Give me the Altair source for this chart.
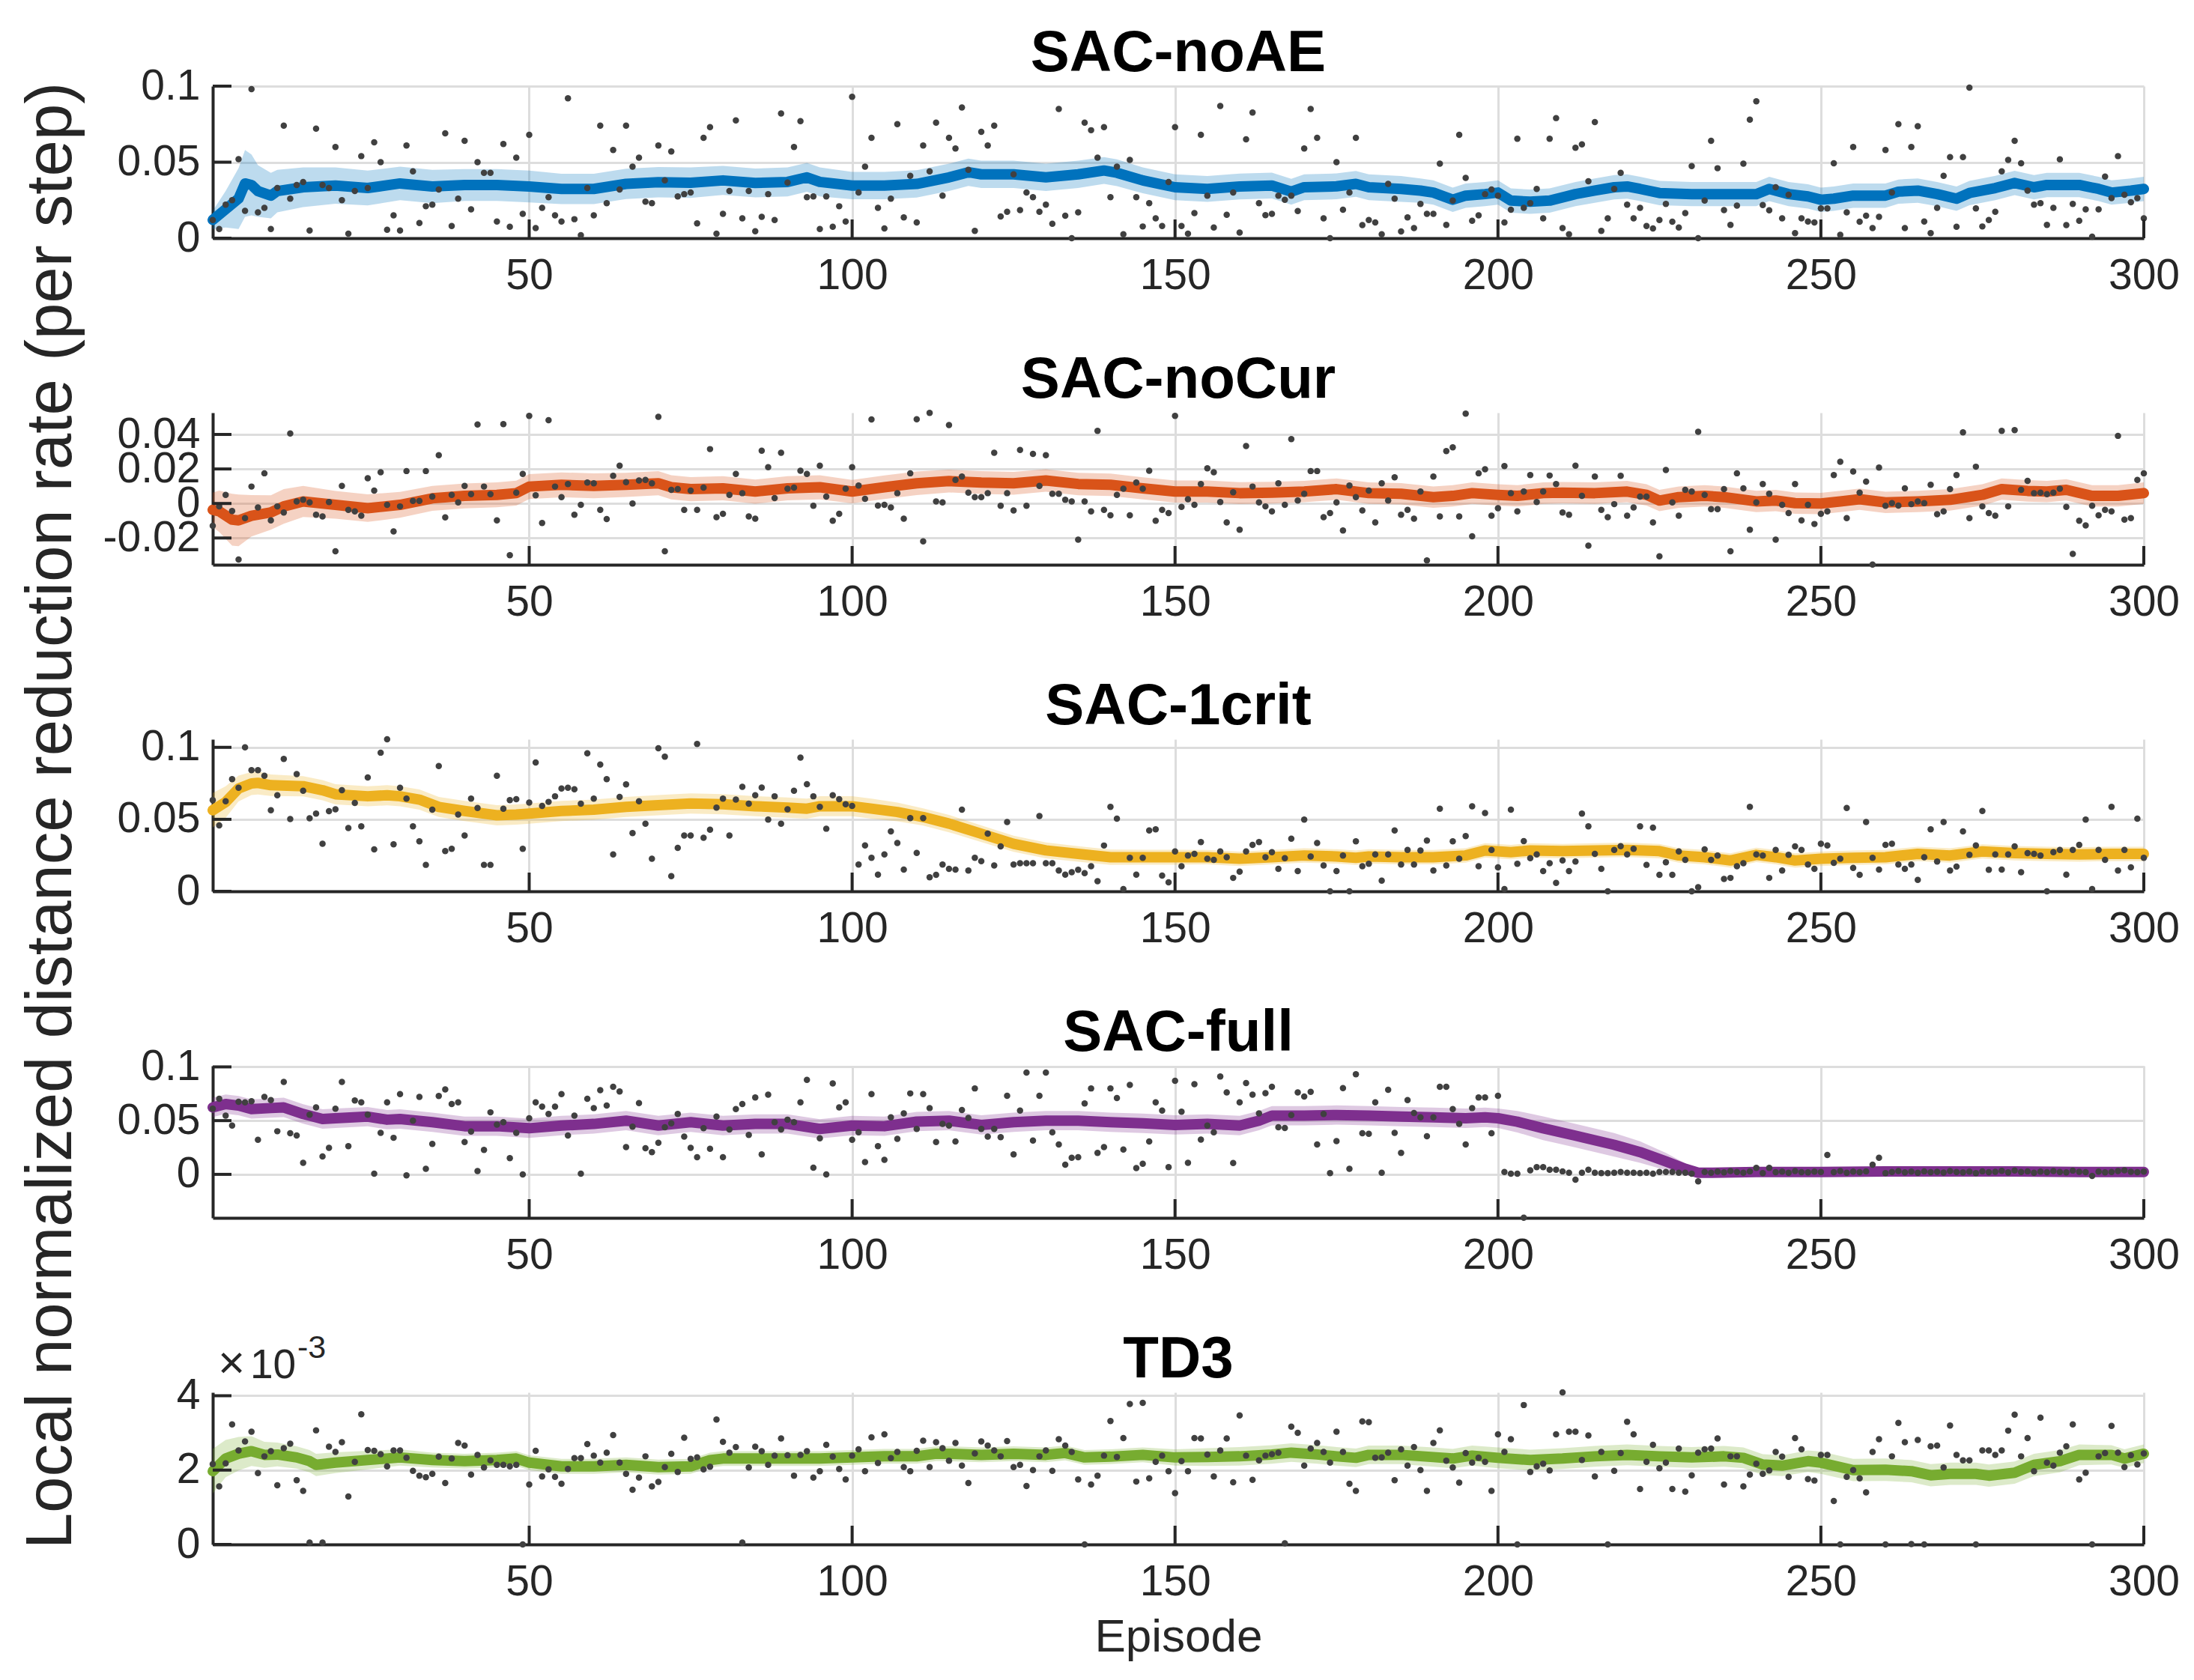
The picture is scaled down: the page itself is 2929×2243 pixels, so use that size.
import pandas as pd
import altair as alt

FONT = "Liberation Sans"
AX = "#262626"
GRID = "#DDDDDD"
DOT = "#404040"

# ---------------- data ----------------
# per-episode value (scatter), episodes 1..300
noae_pts = [
    0.012, 0.006, 0.022, 0.025, 0.052, 0.018, 0.098, 0.017, 0.020, 0.006,
    0.033, 0.074, 0.026, 0.035, 0.037, 0.005, 0.072, 0.035, 0.033, 0.060,
    0.025, 0.003, 0.031, 0.054, 0.033, 0.063, 0.050, 0.0055, 0.015, 0.005,
    0.061, 0.044, 0.010, 0.021, 0.022, 0.032, 0.069, 0.008, 0.026, 0.064,
    0.019, 0.050, 0.043, 0.043, 0.011, 0.062, 0.0075, 0.053, 0.016, 0.068,
    0.0066, 0.020, 0.027, 0.015, 0.011, 0.092, 0.0125, 0.002, 0.033, 0.015,
    0.074, 0.023, 0.058, 0.032, 0.074, 0.047, 0.053, 0.024, 0.023, 0.061,
    0.038, 0.057, 0.0275, 0.029, 0.030, 0.0097, 0.066, 0.073, 0.003, 0.016,
    0.031, 0.0775, 0.013, 0.031, 0.0046, 0.014, 0.029, 0.012, 0.082, 0.0366,
    0.060, 0.077, 0.027, 0.0275, 0.006, 0.0275, 0.0075, 0.021, 0.011, 0.093,
    0.030, 0.047, 0.066, 0.020, 0.0064, 0.026, 0.075, 0.0137, 0.041, 0.0103,
    0.061, 0.044, 0.076, 0.028, 0.066, 0.059, 0.086, 0.045, 0.0048, 0.070,
    0.061, 0.074, 0.0143, 0.0174, 0.042, 0.0185, 0.030, 0.027, 0.0174, 0.022,
    0.0095, 0.085, 0.0148, 0.000, 0.017, 0.076, 0.071, 0.053, 0.073, 0.027,
    0.047, 0.0026, 0.0515, 0.027, 0.0077, 0.023, 0.013, 0.008, 0.037, 0.073,
    0.008, 0.003, 0.0165, 0.068, 0.028, 0.007, 0.087, 0.0154, 0.030, 0.0037,
    0.065, 0.0826, 0.023, 0.0152, 0.016, 0.028, 0.0253, 0.028, 0.0178, 0.059,
    0.085, 0.066, 0.013, 0.000, 0.050, 0.0187, 0.030, 0.066, 0.0086, 0.012,
    0.0103, 0.0026, 0.0357, 0.026, 0.0044, 0.0137, 0.0066, 0.0225, 0.016, 0.016,
    0.049, 0.0088, 0.0247, 0.068, 0.0396, 0.0115, 0.015, 0.029, 0.032, 0.028,
    0.0103, 0.0187, 0.0654, 0.020, 0.023, 0.0324, 0.013, 0.0654, 0.079, 0.0066,
    0.0026, 0.0595, 0.0617, 0.0374, 0.0764, 0.0048, 0.013, 0.0324, 0.043, 0.022,
    0.013, 0.020, 0.008, 0.0064, 0.012, 0.0225, 0.0108, 0.007, 0.0165, 0.0474,
    0.000, 0.0247, 0.064, 0.046, 0.0185, 0.0088, 0.0214, 0.049, 0.078, 0.090,
    0.0218, 0.0183, 0.0335, 0.013, 0.0286, 0.0033, 0.013, 0.011, 0.0103, 0.0196,
    0.0196, 0.0493, 0.0022, 0.017, 0.060, 0.0108, 0.0148, 0.0066, 0.014, 0.058,
    0.030, 0.075, 0.0066, 0.060, 0.0736, 0.011, 0.0033, 0.020, 0.041, 0.0533,
    0.0075, 0.0533, 0.099, 0.0196, 0.0077, 0.012, 0.0174, 0.044, 0.0515, 0.064,
    0.0493, 0.0313, 0.022, 0.023, 0.0088, 0.020, 0.0518, 0.0086, 0.0225, 0.0115,
    0.019, 0.001, 0.019, 0.0405, 0.0264, 0.054, 0.0286, 0.0236, 0.0264, 0.013,
]
nocur_pts = [
    -0.0129, -0.0017, 0.005, -0.0044, -0.0325, -0.0085, 0.0098, -0.0023, 0.0175, -0.0098,
    -0.0017, -0.0052, 0.0406, 0.0012, 0.0021, 0.0006, -0.0065, -0.0075, 0.0008, -0.0277,
    0.0102, -0.0037, -0.0046, -0.0071, 0.0146, 0.0075, 0.0181, -0.0008, -0.0162, -0.0017,
    0.0188, 0.0015, 0.0015, 0.0188, 0.004, 0.028, -0.0081, 0.005, 0.0006, 0.0102,
    0.0054, 0.0458, 0.0098, 0.0054, -0.0098, 0.046, -0.030, 0.0063, 0.0171, 0.0508,
    0.0048, -0.0113, 0.0483, 0.0098, 0.0037, 0.0113, -0.0065, -0.0008, 0.0121, 0.0117,
    -0.0037, -0.009, 0.016, 0.0219, 0.0123, 0.000, 0.0133, 0.0137, 0.0117, 0.0502,
    -0.0277, 0.0079, 0.0083, -0.0037, 0.0075, -0.0037, 0.0092, 0.0315, -0.0079, -0.006,
    0.005, 0.0171, 0.006, -0.0075, -0.0088, 0.0306, 0.021, 0.0031, 0.0294, 0.0085,
    0.0092, 0.019, 0.0171, -0.0013, 0.0219, 0.004, -0.010, -0.006, 0.0085, 0.021,
    0.0104, 0.0027, 0.0487, -0.0012, -0.0008, -0.0023, 0.006, -0.0088, 0.0175, 0.0488,
    -0.0219, 0.0525, 0.0012, 0.0006, 0.0454, 0.0137, 0.0156, 0.0063, 0.0037, 0.0037,
    0.006, 0.0294, -0.0013, 0.006, -0.004, 0.031, -0.0013, 0.0287, 0.0102, 0.028,
    0.0056, 0.0056, 0.0021, 0.0012, -0.021, 0.0012, -0.0046, 0.0421, -0.0037, -0.0069,
    0.005, 0.0085, -0.0069, 0.0121, 0.0085, 0.019, -0.010, -0.0037, -0.0056, 0.0508,
    -0.002, 0.0025, -0.0008, 0.0113, 0.0204, 0.0181, 0.0008, -0.011, 0.0065, -0.0152,
    0.0333, 0.0098, 0.0006, -0.0017, -0.0046, 0.0117, -0.0008, 0.0373, 0.0017, 0.0056,
    0.0188, 0.0188, -0.0079, -0.0056, 0.0006, -0.0156, 0.0104, 0.0037, -0.004, 0.0075,
    -0.011, 0.0117, 0.0017, 0.0152, -0.0065, -0.0037, -0.0088, 0.0069, -0.033, 0.0156,
    -0.0075, 0.0304, 0.0325, -0.0075, 0.0521, -0.019, 0.0175, 0.0198, -0.0071, -0.0027,
    0.0217, 0.006, -0.0046, 0.0069, 0.0165, 0.0008, 0.0069, 0.0162, 0.0113, -0.0052,
    -0.0065, 0.0219, 0.0044, -0.0244, 0.0156, -0.0037, -0.0079, -0.0004, 0.016, -0.0071,
    -0.0023, 0.004, 0.004, -0.011, -0.0306, 0.0194, 0.0006, -0.0071, 0.0079, 0.0069,
    0.0415, 0.005, -0.0033, -0.0033, 0.0083, -0.0277, 0.0175, 0.0088, -0.0152, 0.0006,
    0.0113, 0.0056, -0.021, -0.0008, -0.0056, 0.0113, -0.0098, -0.0008, -0.0119, -0.006,
    -0.0046, 0.0165, 0.0242, -0.0085, 0.0185, 0.0063, 0.0127, -0.0354, 0.0208, -0.0013,
    0.0002, -0.0012, 0.0088, -0.0004, 0.0012, 0.0002, 0.0108, -0.0062, -0.0046, 0.0083,
    0.0165, 0.0412, -0.0085, 0.0213, -0.0017, -0.0056, -0.0071, 0.0421, -0.0017, 0.0425,
    0.0079, 0.0131, 0.006, 0.0063, 0.0054, 0.0063, 0.0085, -0.002, -0.0292, -0.010,
    -0.0127, -0.0013, -0.0069, -0.0037, -0.0046, 0.0392, -0.0094, -0.0085, 0.0137, 0.0175,
]
crit_pts = [
    0.0633, 0.0458, 0.0626, 0.0779, 0.0719, 0.100, 0.0842, 0.0842, 0.0802, 0.0563,
    0.0667, 0.0919, 0.0502, 0.0814, 0.0698, 0.0507, 0.054, 0.033, 0.0556, 0.057,
    0.0702, 0.044, 0.0614, 0.0451, 0.0791, 0.0291, 0.0963, 0.1056, 0.0326, 0.0719,
    0.0644, 0.0451, 0.0347, 0.0184, 0.0567, 0.087, 0.0279, 0.0295, 0.0533, 0.0388,
    0.0644, 0.0579, 0.0184, 0.0184, 0.0802, 0.0574, 0.0633, 0.064, 0.0295, 0.0616,
    0.0895, 0.0593, 0.0621, 0.066, 0.0714, 0.0719, 0.0709, 0.0609, 0.0958, 0.0644,
    0.0881, 0.0779, 0.0256, 0.0656, 0.0742, 0.0405, 0.0626, 0.047, 0.0226, 0.0993,
    0.0935, 0.0105, 0.0302, 0.0388, 0.0388, 0.1023, 0.0372, 0.0428, 0.0581, 0.0644,
    0.0388, 0.0637, 0.0726, 0.0609, 0.0667, 0.0721, 0.0498, 0.066, 0.047, 0.057,
    0.0698, 0.0928, 0.0744, 0.066, 0.0586, 0.0435, 0.0667, 0.064, 0.0605, 0.0593,
    0.0186, 0.0319, 0.0233, 0.0116, 0.0256, 0.0416, 0.0335, 0.0151, 0.0509, 0.0267,
    0.0509, 0.0098, 0.0114, 0.0186, 0.0156, 0.0151, 0.0567, 0.0144, 0.0233, 0.0209,
    0.040, 0.0179, 0.0312, 0.0481, 0.0186, 0.0195, 0.0195, 0.0195, 0.0523, 0.0195,
    0.0195, 0.0144, 0.0116, 0.0133, 0.0149, 0.0126, 0.0174, 0.007, 0.0318, 0.0586,
    0.0505, 0.0016, 0.0233, 0.0116, 0.0233, 0.0423, 0.043, 0.0109, 0.0063, 0.0277,
    0.0174, 0.0249, 0.026, 0.0342, 0.0226, 0.0219, 0.0277, 0.0237, 0.0093, 0.0137,
    0.0277, 0.0323, 0.0342, 0.0237, 0.0272, 0.0156, 0.023, 0.0365, 0.014, 0.0498,
    0.0242, 0.0335, 0.0179, 0.000, 0.014, 0.0249, 0.000, 0.0347, 0.0174, 0.0191,
    0.0256, 0.0074, 0.0256, 0.0423, 0.0186, 0.0288, 0.0186, 0.0284, 0.0353, 0.0144,
    0.0574, 0.0179, 0.0347, 0.0226, 0.0384, 0.0591, 0.0174, 0.0544, 0.0288, 0.0167,
    0.0016, 0.0567, 0.0191, 0.0349, 0.023, 0.0256, 0.014, 0.0195, 0.0058, 0.0214,
    0.014, 0.0207, 0.054, 0.0451, 0.026, 0.0156, 0.000, 0.0288, 0.0314, 0.0256,
    0.0295, 0.0451, 0.0184, 0.0442, 0.0114, 0.0202, 0.0114, 0.0277, 0.0219, 0.000,
    0.0028, 0.0291, 0.0219, 0.0249, 0.0086, 0.0093, 0.0174, 0.0195, 0.0586, 0.0256,
    0.0249, 0.0093, 0.0288, 0.0144, 0.0253, 0.0312, 0.0288, 0.0186, 0.0156, 0.033,
    0.0319, 0.0198, 0.0226, 0.0579, 0.0163, 0.0114, 0.0481, 0.0233, 0.0151, 0.0323,
    0.033, 0.0186, 0.0156, 0.0186, 0.0079, 0.0237, 0.043, 0.0207, 0.0481, 0.0144,
    0.0172, 0.0416, 0.0253, 0.0319, 0.0558, 0.0149, 0.0256, 0.0151, 0.0256, 0.0312,
    0.0133, 0.0265, 0.026, 0.0249, 0.000, 0.0272, 0.0288, 0.0116, 0.0288, 0.0323,
    0.0498, 0.0016, 0.0288, 0.0219, 0.0586, 0.0144, 0.0288, 0.0167, 0.0505, 0.0233,
]
full_pts = [
    0.0611, 0.0704, 0.0546, 0.0454, 0.0676, 0.067, 0.068, 0.0321, 0.072, 0.0691,
    0.0401, 0.086, 0.0383, 0.0361, 0.0108, 0.0556, 0.0623, 0.0167, 0.0247, 0.0611,
    0.086, 0.0262, 0.0688, 0.067, 0.0556, 0.0006, 0.0386, 0.067, 0.034, 0.0747,
    -0.0009, 0.050, 0.072, 0.0052, 0.0284, 0.073, 0.0791, 0.0654, 0.067, 0.030,
    0.0398, 0.0031, 0.0228, 0.0577, 0.0463, 0.0485, 0.0151, 0.0386, 0.000, 0.0522,
    0.067, 0.063, 0.0562, 0.063, 0.0747, 0.0361, 0.0546, 0.0006, 0.0704, 0.0617,
    0.0784, 0.064, 0.0815, 0.0772, 0.0253, 0.0444, 0.0664, 0.0244, 0.0207, 0.0293,
    0.0438, 0.0475, 0.0562, 0.0352, 0.0247, 0.016, 0.0429, 0.0238, 0.0537, 0.016,
    0.0417, 0.0608, 0.0654, 0.0367, 0.0716, 0.0185, 0.0741, 0.0485, 0.0417, 0.0509,
    0.0485, 0.067, 0.088, 0.0062, 0.0336, 0.000, 0.0846, 0.0623, 0.067, 0.0321,
    0.0392, 0.0114, 0.0747, 0.0262, 0.0136, 0.0531, 0.033, 0.0568, 0.0753, 0.0423,
    0.0747, 0.0617, 0.030, 0.0469, 0.0454, 0.0306, 0.0599, 0.0525, 0.080, 0.0423,
    0.0352, 0.0423, 0.0346, 0.0731, 0.0185, 0.0593, 0.0948, 0.0315, 0.0731, 0.0948,
    0.0392, 0.0278, 0.009, 0.0154, 0.016, 0.066, 0.080, 0.020, 0.0253, 0.080,
    0.071, 0.0231, 0.0833, 0.0059, 0.0099, 0.0306, 0.067, 0.0593, 0.0068, 0.087,
    0.0583, 0.0108, 0.084, 0.0324, 0.0454, 0.0392, 0.091, 0.0762, 0.0105, 0.067,
    0.0849, 0.0741, 0.0568, 0.0756, 0.0815, 0.0438, 0.0432, 0.0552, 0.0762, 0.0725,
    0.0768, 0.0278, 0.0562, 0.0012, 0.0309, 0.0802, 0.0052, 0.0932, 0.0383, 0.0377,
    0.067, 0.0015, 0.0787, 0.0386, 0.020, 0.0691, 0.0571, 0.0531, 0.0355, 0.0531,
    0.0815, 0.0815, 0.0608, 0.0469, 0.0278, 0.0617, 0.0716, 0.0716, 0.0383, 0.0731,
    0.0022, 0.0006, 0.0006, -0.0404, 0.0037, 0.0068, 0.0068, 0.0043, 0.0043, 0.0028,
    0.0015, -0.0049, 0.0015, 0.0043, 0.0015, 0.0012, 0.0012, 0.0015, 0.0022, 0.0015,
    0.0015, 0.0012, 0.0015, 0.0006, 0.0022, 0.0022, 0.0022, 0.0015, 0.0015, 0.0006,
    -0.0065, 0.0022, 0.0015, 0.0025, 0.0018, 0.003, 0.0022, 0.0015, 0.0028, 0.006,
    0.0012, 0.006, 0.002, 0.0025, 0.0015, 0.003, 0.002, 0.0018, 0.0026, 0.0022,
    0.018, 0.002, 0.003, 0.0015, 0.0025, 0.002, 0.0028, 0.009, 0.0154, 0.0012,
    0.0022, 0.003, 0.0018, 0.0025, 0.0015, 0.0028, 0.002, 0.0024, 0.0016, 0.003,
    0.0022, 0.0018, 0.0026, 0.0012, 0.0028, 0.002, 0.0024, 0.0032, 0.0018, 0.0036,
    0.0022, 0.0028, 0.0015, 0.0025, 0.002, 0.003, 0.0022, 0.0018, 0.0035, 0.0024,
    0.002, -0.0015, 0.0026, 0.0018, 0.0022, 0.003, 0.0038, 0.0024, 0.002, 0.0025,
]
# TD3 values are in units of 1e-3 (axis shows x10^-3)
td3_pts = [
    2.16, 1.56, 2.18, 3.23, 2.53, 2.77, 3.03, 1.92, 2.37, 2.51,
    1.59, 2.59, 2.71, 1.73, 1.44, 0.05, 3.07, 0.05, 2.63, 2.49,
    2.75, 1.29, 2.22, 3.5, 2.54, 2.52, 2.43, 2.1, 2.53, 2.53,
    2.33, 1.98, 1.85, 1.81, 1.9, 2.36, 1.65, 2.31, 2.73, 2.66,
    1.88, 2.41, 2.07, 2.26, 2.14, 2.14, 2.1, 2.14, 0.0, 1.61,
    2.52, 1.83, 2.02, 1.82, 1.63, 2.03, 2.32, 2.32, 2.7, 2.39,
    2.2, 2.47, 2.94, 2.2, 1.9, 1.47, 1.8, 2.37, 1.56, 1.68,
    2.08, 2.44, 1.95, 2.87, 2.3, 2.34, 2.02, 2.09, 3.36, 2.76,
    2.47, 2.62, 0.05, 2.07, 2.63, 2.51, 2.14, 2.39, 2.85, 2.4,
    1.85, 2.41, 2.51, 1.8, 1.97, 2.68, 2.36, 2.03, 1.75, 2.39,
    2.56, 1.97, 2.88, 2.19, 2.96, 2.32, 2.49, 2.08, 1.97, 2.52,
    2.79, 2.08, 2.75, 2.59, 2.25, 2.73, 2.12, 1.65, 2.45, 2.77,
    2.66, 2.53, 2.37, 2.78, 2.08, 2.14, 1.57, 2.0, 2.37, 2.53,
    1.98, 2.83, 2.66, 2.49, 1.75, 0.0, 1.61, 1.85, 2.39, 3.32,
    2.35, 2.86, 3.78, 1.69, 3.81, 1.78, 2.22, 2.39, 1.97, 1.38,
    2.24, 1.97, 2.86, 2.85, 2.42, 1.83, 2.53, 2.85, 1.67, 3.47,
    2.39, 1.74, 2.26, 2.39, 2.43, 2.47, 0.03, 3.17, 3.0, 2.12,
    2.58, 2.73, 2.49, 2.2, 3.03, 2.49, 1.63, 1.44, 3.31, 3.29,
    2.33, 2.34, 2.47, 1.73, 2.56, 2.12, 2.62, 2.0, 1.44, 2.73,
    3.07, 2.25, 2.07, 1.66, 2.46, 2.2, 2.33, 2.22, 1.44, 2.96,
    2.49, 2.83, 0.0, 3.75, 1.95, 2.1, 2.17, 1.99, 2.96, 4.09,
    3.03, 3.03, 2.27, 2.93, 1.83, 2.49, 0.0, 1.98, 2.46, 3.3,
    2.96, 1.49, 2.22, 2.68, 2.05, 2.2, 1.49, 2.58, 1.42, 1.86,
    2.47, 2.56, 2.58, 2.85, 1.61, 2.37, 2.37, 1.56, 1.88, 2.17,
    1.9, 1.99, 2.49, 2.36, 1.82, 2.86, 2.56, 1.76, 1.72, 2.41,
    2.41, 1.17, 0.0, 1.82, 2.0, 1.78, 1.4, 2.49, 2.83, 0.0,
    2.37, 3.27, 2.75, 0.01, 2.81, 0.0, 2.64, 2.66, 2.07, 3.2,
    2.41, 2.26, 2.26, 0.0, 2.53, 2.53, 2.41, 2.53, 3.06, 3.49,
    2.37, 2.86, 1.97, 3.41, 2.2, 2.12, 2.47, 2.64, 3.23, 1.75,
    1.93, 0.0, 2.37, 2.46, 3.19, 2.47, 2.08, 2.4, 2.15, 2.45,
]

# running mean (sampled episodes), and half-width of the shaded band
noae_ma_ep = [1, 3, 5, 6, 7, 8, 10, 11, 15, 20, 25, 30, 35, 40, 45, 50, 55, 60, 65, 70,
              75, 80, 85, 90, 93, 95, 100, 105, 110, 115, 118, 120, 125, 130, 135, 139, 141, 145, 150, 155,
              160, 165, 168, 170, 175, 178, 180, 185, 188, 190, 193, 195, 198, 200, 202, 205, 208, 212, 215, 218,
              220, 222, 225, 230, 235, 240, 242, 245, 248, 250, 252, 255, 260, 262, 265, 268, 271, 273, 277, 280,
              283, 285, 290, 293, 295, 298, 300]
noae_ma = [0.012, 0.019, 0.026, 0.036, 0.035, 0.031, 0.028, 0.031, 0.0335, 0.0346,
           0.033, 0.036, 0.034, 0.035, 0.035, 0.034, 0.0324, 0.0324, 0.0357, 0.0368,
           0.0365, 0.038, 0.0363, 0.037, 0.040, 0.037, 0.0346, 0.0346, 0.0357, 0.040,
           0.0434, 0.042, 0.042, 0.040, 0.042, 0.0445, 0.043, 0.038, 0.0335, 0.0324,
           0.034, 0.0346, 0.0306, 0.0335, 0.0341, 0.0357, 0.0335, 0.0324, 0.0313, 0.030,
           0.0253, 0.028, 0.029, 0.030, 0.0247, 0.024, 0.0247, 0.029, 0.0313, 0.0335,
           0.034, 0.0324, 0.0297, 0.029, 0.029, 0.029, 0.0324, 0.029, 0.0275, 0.0253,
           0.026, 0.028, 0.028, 0.0306, 0.0313, 0.029, 0.026, 0.0297, 0.033, 0.0363,
           0.0335, 0.035, 0.035, 0.0324, 0.030, 0.0313, 0.0324]
noae_hw = [0.006, 0.012, 0.02, 0.022, 0.02, 0.017, 0.015, 0.014, 0.013, 0.012,
           0.0115, 0.011, 0.011, 0.0105, 0.0105, 0.0105, 0.01, 0.01, 0.01, 0.01,
           0.01, 0.0095, 0.0095, 0.0095, 0.0095, 0.0095, 0.009, 0.009, 0.009, 0.009,
           0.009, 0.009, 0.009, 0.009, 0.009, 0.0088, 0.0088, 0.0085, 0.0085, 0.0085,
           0.0085, 0.0085, 0.0085, 0.0085, 0.0085, 0.0085, 0.0085, 0.0085, 0.008, 0.008,
           0.008, 0.008, 0.008, 0.008, 0.008, 0.008, 0.008, 0.008, 0.008, 0.008,
           0.008, 0.008, 0.008, 0.008, 0.008, 0.008, 0.008, 0.008, 0.008, 0.008,
           0.008, 0.008, 0.008, 0.008, 0.008, 0.008, 0.008, 0.008, 0.008, 0.008,
           0.008, 0.008, 0.008, 0.008, 0.008, 0.008, 0.008]

nocur_ma_ep = [1, 2, 4, 5, 7, 10, 12, 15, 20, 25, 30, 35, 40, 45, 48, 50, 55, 60, 65, 70,
               72, 75, 80, 85, 90, 95, 100, 105, 110, 115, 120, 125, 130, 135, 140, 145, 150, 155, 160, 165,
               170, 175, 180, 185, 190, 193, 196, 200, 203, 207, 210, 215, 220, 223, 225, 228, 232, 235, 240, 243,
               246, 250, 253, 256, 260, 265, 270, 275, 278, 282, 285, 288, 292, 296, 300]
nocur_ma = [-0.0037, -0.0045, -0.0094, -0.0098, -0.0071, -0.0052, -0.0017, 0.0012, -0.0008, -0.0027,
            -0.0008, 0.003, 0.0044, 0.005, 0.006, 0.0098, 0.0108, 0.0102, 0.0108, 0.0117,
            0.0094, 0.0083, 0.0088, 0.0069, 0.0088, 0.0094, 0.0069, 0.0094, 0.0117, 0.013,
            0.0121, 0.0117, 0.0133, 0.0113, 0.0108, 0.0088, 0.0069, 0.0069, 0.006, 0.0063,
            0.0069, 0.0083, 0.006, 0.0056, 0.0037, 0.0044, 0.006, 0.005, 0.0044, 0.006,
            0.0063, 0.006, 0.0069, 0.005, 0.0017, 0.0037, 0.0044, 0.0037, 0.0012, 0.0017,
            0.0002, 0.0, 0.0012, 0.0025, 0.0006, 0.0012, 0.0021, 0.005, 0.0083, 0.0073,
            0.0069, 0.0079, 0.0044, 0.0044, 0.006]
nocur_hw = [0.01, 0.012, 0.015, 0.015, 0.012, 0.01, 0.01, 0.009, 0.008, 0.008,
            0.0075, 0.0072, 0.0072, 0.0072, 0.0072, 0.0072, 0.0072, 0.0072, 0.007, 0.007,
            0.007, 0.007, 0.007, 0.007, 0.007, 0.007, 0.0068, 0.0068, 0.0068, 0.0066,
            0.0066, 0.0066, 0.0065, 0.0065, 0.0065, 0.0064, 0.0064, 0.0064, 0.0063, 0.0063,
            0.0062, 0.0062, 0.0062, 0.0062, 0.0062, 0.0062, 0.0062, 0.0062, 0.0062, 0.0062,
            0.0062, 0.0062, 0.0062, 0.0062, 0.0062, 0.0062, 0.0062, 0.0062, 0.0062, 0.0062,
            0.0062, 0.0062, 0.0062, 0.0062, 0.0062, 0.0062, 0.0062, 0.0062, 0.0062, 0.0062,
            0.0062, 0.0062, 0.0062, 0.0062, 0.0062]

crit_ma_ep = [1, 3, 5, 7, 8, 10, 15, 18, 20, 25, 28, 30, 33, 36, 40, 45, 48, 50, 55, 60,
              65, 70, 75, 80, 85, 90, 93, 95, 100, 103, 107, 111, 115, 120, 125, 130, 135, 140, 145, 150,
              155, 160, 165, 170, 175, 178, 180, 185, 190, 195, 198, 202, 205, 210, 215, 220, 225, 228, 232, 236,
              240, 243, 246, 250, 255, 260, 265, 270, 275, 280, 285, 290, 295, 300]
crit_ma = [0.0563, 0.062, 0.0714, 0.0749, 0.0753, 0.0737, 0.073, 0.0702, 0.0674, 0.066,
           0.0667, 0.066, 0.0637, 0.0586, 0.0558, 0.0528, 0.0533, 0.054, 0.0558, 0.0567,
           0.0586, 0.0598, 0.061, 0.0605, 0.0591, 0.0581, 0.0574, 0.0591, 0.0591, 0.0574,
           0.0551, 0.0516, 0.047, 0.040, 0.033, 0.0284, 0.026, 0.0237, 0.0237, 0.0237,
           0.0237, 0.0226, 0.0237, 0.0249, 0.0242, 0.0233, 0.0242, 0.0237, 0.0237, 0.0249,
           0.0284, 0.0272, 0.0284, 0.0279, 0.0284, 0.0288, 0.0279, 0.0249, 0.0237, 0.0214,
           0.0253, 0.0237, 0.0214, 0.0226, 0.0233, 0.0237, 0.026, 0.0249, 0.0277, 0.0265,
           0.026, 0.0256, 0.026, 0.026]
crit_hw = [0.012, 0.011, 0.009, 0.008, 0.008, 0.0075, 0.007, 0.007, 0.007, 0.007,
           0.007, 0.007, 0.007, 0.007, 0.007, 0.007, 0.007, 0.007, 0.007, 0.007,
           0.007, 0.007, 0.007, 0.007, 0.007, 0.007, 0.007, 0.007, 0.007, 0.007,
           0.0065, 0.006, 0.006, 0.0058, 0.0056, 0.0055, 0.0054, 0.0053, 0.0052, 0.0052,
           0.005, 0.005, 0.005, 0.005, 0.005, 0.005, 0.005, 0.005, 0.005, 0.005,
           0.005, 0.005, 0.005, 0.005, 0.005, 0.005, 0.005, 0.005, 0.005, 0.005,
           0.005, 0.005, 0.005, 0.005, 0.005, 0.005, 0.005, 0.005, 0.005, 0.005,
           0.005, 0.005, 0.005, 0.005]

full_ma_ep = [1, 3, 5, 7, 10, 12, 15, 18, 20, 25, 28, 30, 35, 40, 45, 50, 55, 60, 65, 70,
              75, 80, 85, 90, 95, 100, 105, 110, 115, 120, 125, 130, 135, 140, 145, 150, 155, 160, 163, 165,
              170, 175, 180, 185, 190, 195, 198, 200, 203, 207, 212, 218, 222, 226, 229, 231, 233, 240, 250, 260,
              270, 280, 290, 300]
full_ma = [0.0623, 0.0654, 0.064, 0.0608, 0.0617, 0.0623, 0.0562, 0.0515, 0.0522, 0.0537,
           0.0509, 0.0515, 0.0485, 0.0448, 0.0448, 0.0429, 0.0454, 0.0469, 0.050, 0.0454,
           0.0485, 0.0454, 0.0469, 0.0469, 0.0423, 0.0454, 0.0448, 0.0491, 0.050, 0.046,
           0.0485, 0.050, 0.050, 0.0485, 0.0475, 0.046, 0.0469, 0.0454, 0.050, 0.0546,
           0.0546, 0.0552, 0.0546, 0.0537, 0.0531, 0.0522, 0.0531, 0.0522, 0.049, 0.0429,
           0.036, 0.0275, 0.0207, 0.012, 0.0052, 0.0015, 0.0015, 0.0022, 0.0022, 0.0028,
           0.0028, 0.0028, 0.0022, 0.0022]
full_hw = [0.009, 0.009, 0.009, 0.009, 0.009, 0.009, 0.009, 0.009, 0.009, 0.009,
           0.009, 0.009, 0.009, 0.009, 0.009, 0.009, 0.009, 0.009, 0.009, 0.009,
           0.009, 0.009, 0.009, 0.009, 0.009, 0.009, 0.009, 0.009, 0.009, 0.009,
           0.009, 0.009, 0.009, 0.009, 0.009, 0.009, 0.009, 0.009, 0.009, 0.009,
           0.009, 0.009, 0.009, 0.009, 0.009, 0.009, 0.009, 0.009, 0.010, 0.011,
           0.011, 0.011, 0.010, 0.008, 0.005, 0.003, 0.0025, 0.0025, 0.0025, 0.0025,
           0.0025, 0.0025, 0.0025, 0.0025]

td3_ma_ep = [1, 2, 3, 5, 7, 9, 11, 14, 16, 17, 20, 25, 30, 35, 40, 45, 48, 50, 55, 60,
             65, 70, 75, 78, 80, 85, 90, 95, 100, 105, 110, 113, 115, 120, 125, 130, 133, 136, 140, 145,
             150, 155, 160, 165, 168, 172, 175, 178, 180, 185, 190, 193, 196, 200, 205, 210, 215, 220, 225, 230,
             235, 238, 241, 244, 248, 250, 255, 260, 264, 267, 270, 274, 276, 280, 283, 287, 290, 295, 297, 300]
td3_ma = [1.97, 2.14, 2.31, 2.44, 2.51, 2.41, 2.42, 2.34, 2.24, 2.14,
          2.2, 2.27, 2.34, 2.27, 2.24, 2.27, 2.31, 2.2, 2.1, 2.1,
          2.14, 2.08, 2.1, 2.27, 2.31, 2.31, 2.31, 2.31, 2.34, 2.37,
          2.37, 2.44, 2.44, 2.41, 2.44, 2.41, 2.46, 2.34, 2.36, 2.41,
          2.34, 2.35, 2.37, 2.42, 2.47, 2.42, 2.37, 2.33, 2.41, 2.41,
          2.35, 2.31, 2.39, 2.33, 2.27, 2.31, 2.37, 2.41, 2.37, 2.34,
          2.37, 2.33, 2.15, 2.12, 2.24, 2.2, 2.0, 2.01, 1.97, 1.86,
          1.9, 1.9, 1.85, 1.93, 2.14, 2.24, 2.41, 2.41, 2.31, 2.44]
td3_hw = [0.6, 0.55, 0.5, 0.45, 0.4, 0.35, 0.32, 0.3, 0.3, 0.3,
          0.28, 0.25, 0.22, 0.2, 0.2, 0.2, 0.2, 0.2, 0.2, 0.2,
          0.2, 0.2, 0.2, 0.2, 0.2, 0.2, 0.2, 0.2, 0.2, 0.2,
          0.2, 0.2, 0.2, 0.2, 0.2, 0.2, 0.2, 0.2, 0.2, 0.2,
          0.22, 0.24, 0.25, 0.25, 0.25, 0.25, 0.25, 0.25, 0.25, 0.25,
          0.26, 0.26, 0.27, 0.28, 0.28, 0.28, 0.28, 0.28, 0.28, 0.28,
          0.28, 0.28, 0.28, 0.28, 0.29, 0.3, 0.3, 0.3, 0.3, 0.3,
          0.3, 0.3, 0.3, 0.3, 0.3, 0.3, 0.28, 0.26, 0.25, 0.25]

# axes
x_ticks = [50, 100, 150, 200, 250, 300]
y_ticks_a = [0, 0.05, 0.1]
y_labels_a = ["0", "0.05", "0.1"]
y_ticks_b = [-0.02, 0, 0.02, 0.04]
y_labels_b = ["-0.02", "0", "0.02", "0.04"]
y_ticks_td3 = [0, 2, 4]
y_labels_td3 = ["0", "2", "4"]

YLABEL = "Local normalized distance reduction rate (per step)"

W, H = 2578, 203


def label_expr(vals, labs):
    parts = [f"datum.value == {v} ? '{l}'" for v, l in zip(vals, labs)]
    return " : ".join(parts) + " : ''"


def text_layer(txt, x, y, size, bold=False, align="left", color=AX):
    return alt.Chart(pd.DataFrame({"t": [txt]})).mark_text(
        align=align, baseline="alphabetic", fontSize=size, color=color, font=FONT,
        fontWeight="bold" if bold else "normal"
    ).encode(x=alt.value(x), y=alt.value(y), text="t:N")


def panel(title, pts, ma_ep, ma, hw, color, ydom, yt, yl, ytitle=False, xtitle=False, extra=None):
    pts_df = pd.DataFrame({"ep": list(range(1, 301)), "val": pts})
    ma_df = pd.DataFrame({"ep": ma_ep, "mean": ma, "hw": hw})
    ma_df["lo"] = ma_df["mean"] - ma_df["hw"]
    ma_df["hi"] = ma_df["mean"] + ma_df["hw"]

    yaxis = dict(values=yt, labelExpr=label_expr(yt, yl), grid=True, gridColor=GRID,
                 gridWidth=3, ticks=False, domainColor=AX, domainWidth=4,
                 labelFontSize=57, labelColor=AX, labelPadding=17, labelOverlap=False,
                 labelFont=FONT)
    if ytitle:
        yaxis.update(title=YLABEL, titleFontSize=87, titleFontWeight="normal", titleColor=AX,
                     titleFont=FONT, titleX=-216, titleY=H / 2, titleAngle=270,
                     titleAlign="center", titleBaseline="middle")
    else:
        yaxis.update(title=None)
    xaxis = dict(values=x_ticks, grid=True, gridColor=GRID, gridWidth=3, ticks=False,
                 domainColor=AX, domainWidth=4, labelFontSize=57, labelColor=AX,
                 labelPadding=22, labelFlush=False, labelOverlap=False, labelFont=FONT)
    if xtitle:
        xaxis.update(title="Episode", titleFontSize=62, titleFontWeight="normal",
                     titleColor=AX, titleFont=FONT, titlePadding=15)
    else:
        xaxis.update(title=None)

    xs = alt.Scale(domain=[1, 300], nice=False, zero=False)
    ys = alt.Scale(domain=ydom, nice=False, zero=False)

    def X(f):
        return alt.X(f"{f}:Q", scale=xs, axis=alt.Axis(**xaxis))

    def Y(f):
        return alt.Y(f"{f}:Q", scale=ys, axis=alt.Axis(**yaxis))

    band = alt.Chart(ma_df).mark_area(color=color, opacity=0.26).encode(
        x=X("ep"), y=Y("lo"), y2="hi")
    line = alt.Chart(ma_df).mark_line(color=color, strokeWidth=14, strokeJoin="round",
                                      strokeCap="round").encode(x=X("ep"), y=Y("mean"))
    dots = alt.Chart(pts_df).mark_circle(color=DOT, size=72, opacity=1).encode(
        x=X("ep"), y=Y("val"))
    ytk = alt.Chart(pd.DataFrame({"v": yt})).mark_rule(color=AX, strokeWidth=4).encode(
        y=Y("v"), x=alt.value(0), x2=alt.value(25))
    xtk = alt.Chart(pd.DataFrame({"v": x_ticks})).mark_rule(color=AX, strokeWidth=4).encode(
        x=X("v"), y=alt.value(H), y2=alt.value(H - 25))
    ttl = text_layer(title, W / 2, -20, 78, bold=True, align="center", color="#000000")
    layers = [band, line, dots, ytk, xtk, ttl]
    if extra:
        layers += extra
    return alt.layer(*layers).properties(width=W, height=H)


exp_text = [
    text_layer("×", 7, -19, 62),
    text_layer("10", 50, -19, 55),
    text_layer("-3", 113, -46, 43),
]

p1 = panel("SAC-noAE", noae_pts, noae_ma_ep, noae_ma, noae_hw, "#0072BD",
           [0, 0.1], y_ticks_a, y_labels_a)
p2 = panel("SAC-noCur", nocur_pts, nocur_ma_ep, nocur_ma, nocur_hw, "#D95319",
           [-0.0355, 0.0526], y_ticks_b, y_labels_b)
p3 = panel("SAC-1crit", crit_pts, crit_ma_ep, crit_ma, crit_hw, "#EDB120",
           [0, 0.1056], y_ticks_a, y_labels_a, ytitle=True)
p4 = panel("SAC-full", full_pts, full_ma_ep, full_ma, full_hw, "#7E2F8E",
           [-0.0405, 0.101], y_ticks_a, y_labels_a)
p5 = panel("TD3", td3_pts, td3_ma_ep, td3_ma, td3_hw, "#77AC30",
           [0, 4.09], y_ticks_td3, y_labels_td3, xtitle=True, extra=exp_text)

chart = alt.vconcat(p1, p2, p3, p4, p5, spacing=233, bounds="flush").properties(
    padding={"left": 15, "top": 25, "right": 5, "bottom": 5}
).configure(font=FONT).configure_view(strokeWidth=0)

chart.save("out.html", embed_options={"renderer": "svg", "actions": False})
